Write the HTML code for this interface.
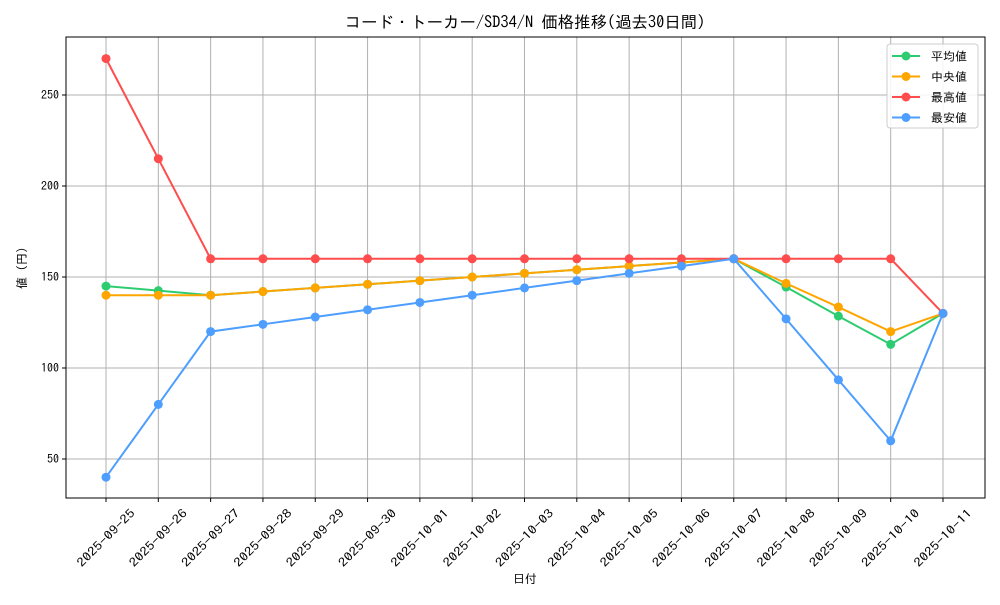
<!DOCTYPE html>
<html><head><meta charset="utf-8"><style>
body{margin:0;background:#fff;}
svg text{font-family:"IPAGothic","Noto Sans CJK JP",monospace;fill:#000;}
</style></head><body>
<svg id="chart" width="1000" height="600" xmlns="http://www.w3.org/2000/svg"></svg>
<script>
const categories=["2025-09-25","2025-09-26","2025-09-27","2025-09-28","2025-09-29","2025-09-30","2025-10-01","2025-10-02","2025-10-03","2025-10-04","2025-10-05","2025-10-06","2025-10-07","2025-10-08","2025-10-09","2025-10-10","2025-10-11"];
const avgValues=[145,142.5,140,142,144,146,148,150,152,154,156,158,160,144.5,128.5,113,130];
const medianValues=[140,140,140,142,144,146,148,150,152,154,156,158,160,146.5,133.5,120,130];
const maxValues=[270,215,160,160,160,160,160,160,160,160,160,160,160,160,160,160,130];
const minValues=[40,80,120,124,128,132,136,140,144,148,152,156,160,127,93.5,60,130];
const yTicks=[50,100,150,200,250];
const seriesNames=["平均値","中央値","最高値","最安値"];
const seriesColors=["#2ecc71","#ffa500","#ff4d4d","#4d9eff"];
const seriesData=[avgValues,medianValues,maxValues,minValues];

const svg=document.getElementById('chart');
const NS="http://www.w3.org/2000/svg";
const L=66,R=985,T=37,B=498;
const x0=106,x1=943;
function xScale(i){return x0+(x1-x0)*i/(categories.length-1);}
function yScale(v){return 459-(v-50)*(364/200);}
function mk(tag,attrs,parent){const e=document.createElementNS(NS,tag);for(const k in attrs)e.setAttribute(k,attrs[k]);(parent||svg).appendChild(e);return e;}

categories.forEach((c,i)=>{
  const g=mk('line',{x1:xScale(i),x2:xScale(i),y1:T,y2:B,stroke:'#b0b0b0','stroke-width':1});
  
  
  const tk=mk('line',{x1:xScale(i),x2:xScale(i),y1:B,y2:B+4,stroke:'#000'});
  
  
  const cx=xScale(i),cy=538;
  const t=mk('text',{x:cx,y:cy+4,'font-size':12,'text-anchor':'middle',textLength:76,lengthAdjust:'spacingAndGlyphs',transform:`rotate(-45 ${cx} ${cy})`});
  t.textContent=c;
  
  
});
yTicks.forEach(v=>{
  const g=mk('line',{x1:L,x2:R,y1:yScale(v),y2:yScale(v),stroke:'#b0b0b0','stroke-width':1});
  
  
  const tk=mk('line',{x1:L-4,x2:L,y1:yScale(v),y2:yScale(v),stroke:'#000'});
  
  
  const t=mk('text',{x:L-7,y:yScale(v)+4,'font-size':12,'text-anchor':'end'});
  t.textContent=v;
  
  
});
const frame=mk('rect',{x:L,y:T,width:R-L,height:B-T,fill:'none',stroke:'#000','stroke-width':1});



seriesData.forEach((arr,s)=>{
  const g=mk('g',{});
  
  
  const pts=arr.map((v,i)=>xScale(i)+','+yScale(v)).join(' ');
  const pl=mk('polyline',{points:pts,fill:'none',stroke:seriesColors[s],'stroke-width':2},g);
  
  
  arr.forEach((v,i)=>{
    const c=mk('circle',{cx:xScale(i),cy:yScale(v),r:4.5,fill:seriesColors[s]},g);
    
    
  });
});

const title=mk('text',{x:525,y:28,'font-size':16.4,'text-anchor':'middle'});
title.textContent='コード・トーカー/SD34/N 価格推移(過去30日間)';


const xt=mk('text',{x:525,y:583,'font-size':12,'text-anchor':'middle'});
xt.textContent='日付';


const yt=mk('text',{x:26,y:268,'font-size':12,'text-anchor':'middle',transform:'rotate(-90 26 268)'});
yt.textContent='値 (円)';



const lg=mk('g',{});


const lb=mk('rect',{x:887,y:44,width:91,height:84,rx:3,fill:'#fff','fill-opacity':0.85,stroke:'#ccc'},lg);


seriesNames.forEach((n,s)=>{
  const y=56+s*20.5;
  const e=mk('g',{},lg);
  
  
  mk('line',{x1:892,x2:920,y1:y,y2:y,stroke:seriesColors[s],'stroke-width':2},e);
  mk('circle',{cx:906,cy:y,r:4.5,fill:seriesColors[s]},e);
  const t=mk('text',{x:931,y:y+4.5,'font-size':12},e);
  t.textContent=n;
});
</script>
</body></html>
